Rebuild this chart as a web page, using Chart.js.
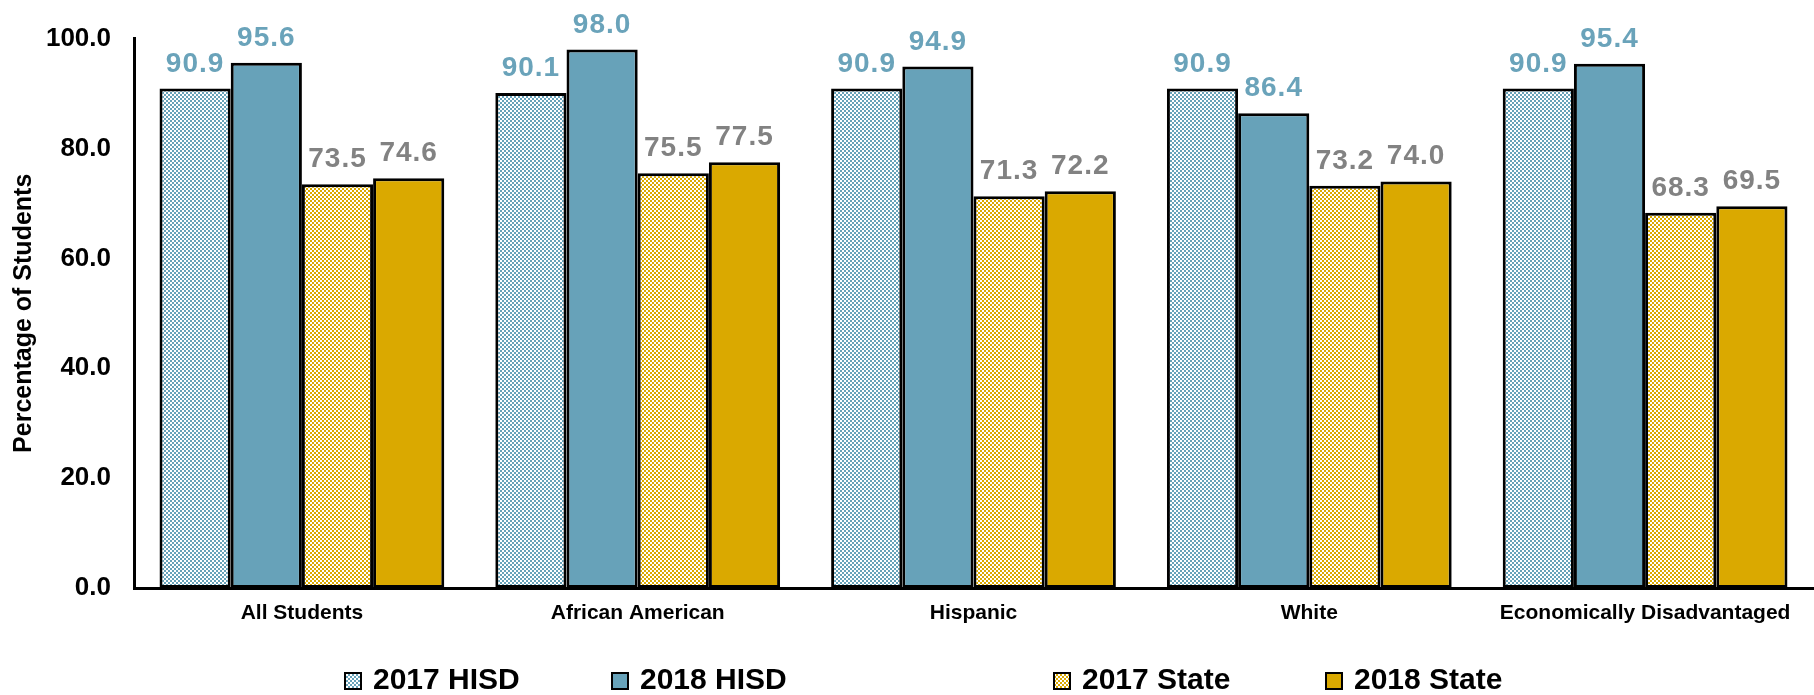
<!DOCTYPE html>
<html>
<head>
<meta charset="utf-8">
<script src="https://cdn.jsdelivr.net/npm/chart.js@4.4.1/dist/chart.umd.min.js"></script>
<style>
  html, body { margin: 0; padding: 0; background: #fff; }
  #wrap { width: 1814px; height: 695px; }
</style>
</head>
<body>
<div id="wrap"><canvas id="chart-grad" width="1814" height="695"></canvas></div>
<script>
// values
const categories = ["All Students", "African American", "Hispanic", "White", "Economically Disadvantaged"];
const seriesNames = ["2017 HISD", "2018 HISD", "2017 State", "2018 State"];
const hisd2017 = [90.9, 90.1, 90.9, 90.9, 90.9];
const hisd2018 = [95.6, 98.0, 94.9, 86.4, 95.4];
const state2017 = [73.5, 75.5, 71.3, 73.2, 68.3];
const state2018 = [74.6, 77.5, 72.2, 74.0, 69.5];
const yTicks = [0, 20, 40, 60, 80, 100];

const BLUE = "#67a2b9";
const GOLD = "#daa900";
const BLUE_LABEL = "#6aa3ba";
const GRAY_LABEL = "#828282";

// small checkerboard fill, like the excel pattern
function checker(color) {
  const c = document.createElement("canvas");
  c.width = 4;
  c.height = 4;
  const g = c.getContext("2d");
  g.fillStyle = color;
  g.fillRect(0, 0, 4, 4);
  g.fillStyle = "#fff";
  g.fillRect(0, 0, 2, 2);
  g.fillRect(2, 2, 2, 2);
  return g.createPattern(c, "repeat");
}

const fills = [checker(BLUE), BLUE, checker(GOLD), GOLD];
const labelColors = [BLUE_LABEL, BLUE_LABEL, GRAY_LABEL, GRAY_LABEL];
const seriesValues = [hisd2017, hisd2018, state2017, state2018];

// value labels above each bar
const valueLabels = {
  id: "valueLabels",
  afterDatasetsDraw(chart) {
    const ctx = chart.ctx;
    ctx.save();
    ctx.font = "bold 28px 'Liberation Sans', Arial, sans-serif";
    ctx.letterSpacing = "1px";
    ctx.textAlign = "center";
    ctx.textBaseline = "alphabetic";
    chart.data.datasets.forEach((ds, i) => {
      const meta = chart.getDatasetMeta(i);
      ctx.fillStyle = labelColors[i];
      meta.data.forEach((bar, j) => {
        ctx.fillText(ds.data[j].toFixed(1), bar.x, bar.y - 17);
      });
    });
    ctx.restore();
  },
};

// legend drawn by hand, the source spaces the items unevenly
const legendStarts = [345, 612, 1054, 1326];
const bottomLegend = {
  id: "bottomLegend",
  afterDraw(chart) {
    const ctx = chart.ctx;
    const cy = 681;
    ctx.save();
    ctx.font = "bold 30px 'Liberation Sans', Arial, sans-serif";
    ctx.textBaseline = "middle";
    ctx.textAlign = "left";
    chart.data.datasets.forEach((ds, i) => {
      const x = legendStarts[i];
      ctx.fillStyle = ds.backgroundColor;
      ctx.fillRect(x, cy - 8, 16, 16);
      ctx.lineWidth = 2;
      ctx.strokeStyle = "#000";
      ctx.strokeRect(x, cy - 8, 16, 16);
      ctx.fillStyle = "#000";
      ctx.fillText(ds.label, x + 28, cy);
    });
    ctx.restore();
  },
};

new Chart(document.getElementById("chart-grad"), {
  type: "bar",
  data: {
    labels: categories,
    datasets: seriesNames.map((name, i) => ({
      label: name,
      data: seriesValues[i],
      backgroundColor: fills[i],
      borderColor: "#000",
      borderWidth: 3,
      borderSkipped: false,
      categoryPercentage: 0.848,
      barPercentage: 1.0,
    })),
  },
  options: {
    responsive: false,
    animation: false,
    layout: { padding: { top: 36, right: 1, left: 0, bottom: 0 } },
    plugins: {
      legend: { display: false },
      tooltip: { enabled: false },
    },
    scales: {
      x: {
        grid: { display: false, drawTicks: false },
        border: { color: "#000", width: 3 },
        ticks: {
          color: "#000",
          padding: 13,
          maxRotation: 0,
          autoSkip: false,
          font: { family: "'Liberation Sans', Arial, sans-serif", size: 21, weight: "bold" },
        },
        afterFit: (scale) => { scale.height = 107; },
      },
      y: {
        min: 0,
        max: 100,
        grid: { display: false, drawTicks: false },
        border: { color: "#000", width: 3 },
        afterBuildTicks: (scale) => { scale.ticks = yTicks.map((v) => ({ value: v })); },
        ticks: {
          color: "#000",
          padding: 23,
          callback: (v) => Number(v).toFixed(1),
          font: { family: "'Liberation Sans', Arial, sans-serif", size: 26, weight: "bold" },
        },
        title: {
          display: true,
          text: "Percentage of Students",
          color: "#000",
          padding: { top: 9, bottom: 0 },
          font: { family: "'Liberation Sans', Arial, sans-serif", size: 25, weight: "bold" },
        },
        afterFit: (scale) => { scale.width = 134; },
      },
    },
  },
  plugins: [valueLabels, bottomLegend],
});
</script>
</body>
</html>
